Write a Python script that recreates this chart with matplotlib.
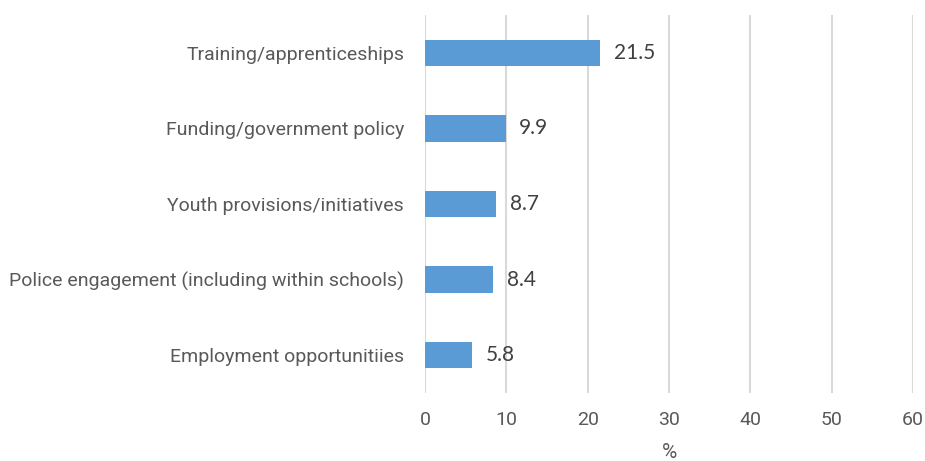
import matplotlib
matplotlib.use("Agg")
import matplotlib.pyplot as plt
from matplotlib import font_manager

categories = [
    "Employment opportunitiies",
    "Police engagement (including within schools)",
    "Youth provisions/initiatives",
    "Funding/government policy",
    "Training/apprenticeships",
]
values = [5.8, 8.4, 8.7, 9.9, 21.5]
xticks = [0, 10, 20, 30, 40, 50, 60]

names = {f.name for f in font_manager.fontManager.ttflist}
narrow = "Liberation Sans Narrow" if "Liberation Sans Narrow" in names else "Roboto"

fig = plt.figure(figsize=(9.25, 4.61), dpi=100)
ax = fig.add_axes([0.4595, 0.1475, 0.5275, 0.82])

ax.barh(range(len(values)), values, height=0.35, color="#5B9BD5", zorder=3)
for i, v in enumerate(values):
    ax.text(v + 1.7, i, f"{v}", va="center", ha="left", fontsize=15,
            color="#404040", family="Lato")

ax.set_xlim(0, 60)
ax.set_ylim(-0.5, len(values) - 0.5)
ax.set_xticks(xticks)
ax.set_yticks(range(len(categories)))
ax.set_yticklabels(categories)
ax.grid(axis="x", color="#D9D9D9", linewidth=1.5, zorder=0)
for s in ax.spines.values():
    s.set_visible(False)
ax.tick_params(length=0, labelcolor="#595959", labelsize=14)
ax.tick_params(axis="x", pad=13)
ax.tick_params(axis="y", pad=15)
for lbl in ax.get_xticklabels() + ax.get_yticklabels():
    lbl.set_family(narrow)
ax.set_xlabel("%", fontsize=15, color="#595959", family=narrow, labelpad=10)

fig.savefig("out.png", dpi=100)
